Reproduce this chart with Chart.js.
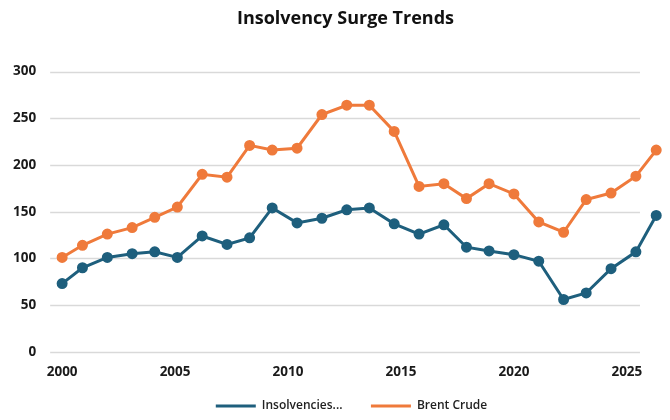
<!DOCTYPE html>
<html>
<head>
<meta charset="utf-8">
<script src="https://cdn.jsdelivr.net/npm/chart.js@4"></script>
<style>
  body { margin: 0; background: #fff; }
  #wrap { width: 670px; height: 420px; }
</style>
</head>
<body>
<div id="wrap"><canvas id="trendChart"></canvas></div>
<script>
// years (points are not exactly one year apart)
const years = [2000, 2000.9, 2002.0, 2003.1, 2004.1, 2005.1, 2006.2, 2007.3, 2008.3, 2009.3,
  2010.4, 2011.5, 2012.6, 2013.6, 2014.7, 2015.8, 2016.9, 2017.9, 2018.9, 2020.0,
  2021.1, 2022.2, 2023.2, 2024.3, 2025.4, 2026.3];
const insolvencies = [73, 90, 101, 105, 107, 101, 124, 115, 122, 154,
  138, 143, 152, 154, 137, 126, 136, 112, 108, 104,
  97, 56, 63, 89, 107, 146];
const brentCrude = [101, 114, 126, 133, 144, 155, 190, 187, 221, 216,
  218, 254, 264, 264, 236, 177, 180, 164, 180, 169,
  139, 128, 163, 170, 188, 216];
const xTicks = [2000, 2005, 2010, 2015, 2020, 2025];
const yTicks = [0, 50, 100, 150, 200, 250, 300];

const blue = "#1e5f7d";
const orange = "#ef7a3b";
const gridEnd = 2025.58; // horizontal grid stops before the last points

// horizontal grid lines, stopped short of the right edge like the original
const shortGrid = {
  id: "shortGrid",
  beforeDatasetsDraw(chart) {
    const { ctx, chartArea, scales } = chart;
    const right = scales.x.getPixelForValue(gridEnd);
    ctx.save();
    ctx.strokeStyle = "#d9d9d9";
    ctx.lineWidth = 1.5;
    yTicks.forEach((v) => {
      const y = Math.round(scales.y.getPixelForValue(v)) + 0.5;
      ctx.beginPath();
      ctx.moveTo(chartArea.left, y);
      ctx.lineTo(right, y);
      ctx.stroke();
    });
    ctx.restore();
  },
};

// title and legend sit a little right of the canvas centre in the original
const nudge = {
  id: "nudge",
  afterLayout(chart) {
    if (chart.titleBlock) {
      chart.titleBlock.left += 10;
      chart.titleBlock.right += 10;
    }
    if (chart.legend) {
      chart.legend.left += 16;
      chart.legend.right += 16;
      chart.legend.adjustHitBoxes();
    }
  },
  // dot in the middle of each legend line
  afterDraw(chart) {
    const legend = chart.legend;
    if (!legend || !legend.legendHitBoxes) return;
    const ctx = chart.ctx;
    legend.legendHitBoxes.forEach((box, i) => {
      const ds = chart.data.datasets[i];
      ctx.save();
      ctx.fillStyle = ds.borderColor;
      ctx.beginPath();
      ctx.arc(box.left + 20, box.top + box.height / 2, 4, 0, Math.PI * 2);
      ctx.fill();
      ctx.restore();
    });
  },
};

new Chart(document.getElementById("trendChart"), {
  type: "line",
  data: {
    datasets: [
      {
        label: "Insolvencies...",
        data: years.map((y, i) => ({ x: y, y: insolvencies[i] })),
        borderColor: blue,
        backgroundColor: blue,
        borderWidth: 3,
        pointRadius: 4,
        pointHoverRadius: 4,
      },
      {
        label: "Brent Crude",
        data: years.map((y, i) => ({ x: y, y: brentCrude[i] })),
        borderColor: orange,
        backgroundColor: orange,
        borderWidth: 3,
        pointRadius: 4,
        pointHoverRadius: 4,
      },
    ],
  },
  options: {
    responsive: true,
    maintainAspectRatio: false,
    animation: false,
    layout: { padding: { left: 7, right: 6, top: 4, bottom: 0 } },
    plugins: {
      title: {
        display: true,
        text: "Insolvency Surge Trends",
        color: "#111",
        font: { family: "Open Sans", size: 18, weight: "bold" },
        padding: { top: 4, bottom: 42 },
      },
      legend: {
        position: "bottom",
        maxHeight: 36,
        labels: {
          boxWidth: 40,
          boxHeight: 3,
          padding: 16,
          color: "#222",
          font: { family: "Open Sans", size: 12, weight: "600" },
          generateLabels(chart) {
            return chart.data.datasets.map((ds, i) => ({
              // a little trailing space widens the gap between the two items
              text: i === 0 ? ds.label + "    " : ds.label,
              fillStyle: ds.borderColor,
              strokeStyle: ds.borderColor,
              lineWidth: 0,
              datasetIndex: i,
              fontColor: "#222",
            }));
          },
        },
      },
      tooltip: { enabled: false },
    },
    scales: {
      x: {
        type: "linear",
        min: 1999.47,
        max: 2026.6,
        afterBuildTicks(scale) {
          scale.ticks = xTicks.map((v) => ({ value: v }));
        },
        grid: { display: false },
        border: { display: false },
        ticks: {
          color: "#1a1a1a",
          padding: 4,
          font: { family: "Open Sans", size: 13.5, weight: "bold" },
          callback: (v) => String(v),
        },
      },
      y: {
        min: 0,
        max: 300,
        afterBuildTicks(scale) {
          scale.ticks = yTicks.map((v) => ({ value: v }));
        },
        grid: { display: false },
        border: { display: false },
        ticks: {
          color: "#1a1a1a",
          padding: 6,
          font: { family: "Open Sans", size: 13.5, weight: "bold" },
        },
      },
    },
  },
  plugins: [shortGrid, nudge],
});
</script>
</body>
</html>
